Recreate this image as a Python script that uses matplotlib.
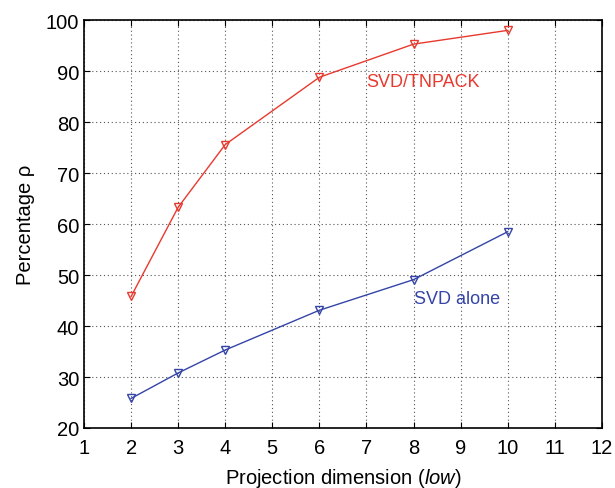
import matplotlib
matplotlib.use("Agg")
import matplotlib.pyplot as plt

plt.rcParams['font.family'] = ['Liberation Sans', 'DejaVu Sans']
plt.rcParams['mathtext.fontset'] = 'custom'
plt.rcParams['mathtext.it'] = 'Liberation Sans:italic'

dims = [2, 3, 4, 6, 8, 10]
svd_tnpack = [45.8, 63.3, 75.6, 88.8, 95.3, 98.0]
svd_alone = [25.8, 30.8, 35.3, 43.1, 49.1, 58.5]

red = "#e8392e"
blue = "#3444a8"

fig = plt.figure(figsize=(6.15, 4.89), dpi=100)
ax = fig.add_axes([0.1366, 0.1227, 0.842, 0.834])

ax.plot(dims, svd_tnpack, color=red, lw=1.0, marker="v", ms=6,
        mfc="none", mec=red, mew=1.0)
ax.plot(dims, svd_alone, color=blue, lw=1.0, marker="v", ms=6,
        mfc="none", mec=blue, mew=1.0)

ax.text(7.0, 88.0, "SVD/TNPACK", color=red, fontsize=13, va="center", ha="left")
ax.text(8.0, 45.5, "SVD alone", color=blue, fontsize=13, va="center", ha="left")

ax.set_xlim(1, 12)
ax.set_ylim(20, 100)
ax.set_xticks(range(1, 13))
ax.set_yticks(range(20, 101, 10))
ax.grid(True, linestyle=(0, (1, 2.5)), color="#555555", lw=0.8)
ax.tick_params(direction="in", top=True, right=True, labelsize=14.5, length=4)
ax.tick_params(axis="x", pad=7)
for s in ax.spines.values():
    s.set_linewidth(1.2)

ax.set_xlabel("Projection dimension ($\\mathit{low}$)", fontsize=14.5, labelpad=7)
ax.set_ylabel("Percentage \u03c1", fontsize=14.5, labelpad=8)

fig.savefig("out.png", dpi=100)
